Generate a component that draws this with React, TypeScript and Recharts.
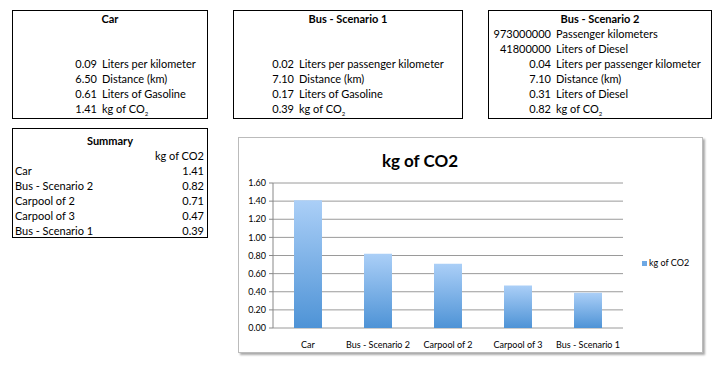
import { Bar, BarChart, CartesianGrid, XAxis, YAxis } from "recharts"

// chart data
const categories = ["Car", "Bus - Scenario 2", "Carpool of 2", "Carpool of 3", "Bus - Scenario 1"]
const co2Values = [1.41, 0.82, 0.71, 0.47, 0.39]
const yTicks = [0, 0.2, 0.4, 0.6, 0.8, 1.0, 1.2, 1.4, 1.6]
const edgeTicks = [0, 1, 2, 3, 4, 5]
const seriesName = "kg of CO2"

// worksheet tables
const carNumbers = ["", "", "0.09", "6.50", "0.61", "1.41"]
const carLabels = ["", "", "Liters per kilometer", "Distance (km)", "Liters of Gasoline", "kg of CO2"]

const bus1Numbers = ["", "", "0.02", "7.10", "0.17", "0.39"]
const bus1Labels = ["", "", "Liters per passenger kilometer", "Distance (km)", "Liters of Gasoline", "kg of CO2"]

const bus2Numbers = ["973000000", "41800000", "0.04", "7.10", "0.31", "0.82"]
const bus2Labels = [
  "Passenger kilometers",
  "Liters of Diesel",
  "Liters per passenger kilometer",
  "Distance (km)",
  "Liters of Diesel",
  "kg of CO2",
]

const summaryHeader = "kg of CO2"
const summaryValues = ["1.41", "0.82", "0.71", "0.47", "0.39"]

const data = categories.map((name, i) => ({ name, co2: co2Values[i] }))

const font = "Lato, 'Open Sans', sans-serif"

function withSub(text: string) {
  if (!text.endsWith("CO2")) return text
  return (
    <>
      {text.slice(0, -1)}
      <sub style={{ fontSize: 6, lineHeight: 0 }}>2</sub>
    </>
  )
}

function InfoBox(props: {
  left: number
  width: number
  title: string
  numbers: string[]
  labels: string[]
  numWidth: number
}) {
  const { left, width, title, numbers, labels, numWidth } = props
  return (
    <div
      style={{
        position: "absolute",
        left,
        top: 10,
        width,
        height: 109,
        border: "1px solid #000",
        boxSizing: "border-box",
        fontSize: 11,
        lineHeight: "15px",
      }}
    >
      <div style={{ textAlign: "center", fontWeight: 700 }}>{title}</div>
      {numbers.map((n, i) => (
        <div key={i} style={{ display: "flex", height: 15 }}>
          <div style={{ width: numWidth, textAlign: "right", flexShrink: 0 }}>{n}</div>
          <div style={{ paddingLeft: 5, whiteSpace: "nowrap" }}>{withSub(labels[i])}</div>
        </div>
      ))}
    </div>
  )
}

export default function App() {
  return (
    <div
      style={{
        position: "absolute",
        left: 0,
        top: 0,
        width: 727,
        height: 376,
        background: "#fff",
        fontFamily: font,
        color: "#000",
      }}
    >
      <InfoBox left={12} width={196} title="Car" numbers={carNumbers} labels={carLabels} numWidth={84} />
      <InfoBox left={233} width={230} title="Bus - Scenario 1" numbers={bus1Numbers} labels={bus1Labels} numWidth={60} />
      <InfoBox left={488} width={224} title="Bus - Scenario 2" numbers={bus2Numbers} labels={bus2Labels} numWidth={62} />

      <div
        style={{
          position: "absolute",
          left: 12,
          top: 128,
          width: 196,
          height: 110,
          border: "1px solid #000",
          boxSizing: "border-box",
          fontSize: 11,
          lineHeight: "15px",
          paddingTop: 4,
        }}
      >
        <div style={{ textAlign: "center", fontWeight: 700 }}>Summary</div>
        <div style={{ textAlign: "right", paddingRight: 3 }}>{summaryHeader}</div>
        {categories.map((c, i) => (
          <div key={c} style={{ display: "flex", justifyContent: "space-between", padding: "0 3px 0 2px" }}>
            <span>{c}</span>
            <span>{summaryValues[i]}</span>
          </div>
        ))}
      </div>

      <div
        style={{
          position: "absolute",
          left: 238,
          top: 137,
          width: 465,
          height: 216,
          border: "1px solid #bbb",
          boxSizing: "border-box",
          boxShadow: "2px 2px 2px #aaa",
        }}
      />
      <div
        style={{
          position: "absolute",
          left: 340,
          top: 150,
          width: 160,
          textAlign: "center",
          fontSize: 17,
          fontWeight: 700,
        }}
      >
        kg of CO2
      </div>
      <div
        style={{
          position: "absolute",
          left: 642,
          top: 257,
          display: "flex",
          alignItems: "center",
          fontSize: 9,
          lineHeight: "12px",
        }}
      >
        <span style={{ width: 5, height: 5, background: "#6ea8e4", marginRight: 2 }} />
        {seriesName}
      </div>
      <div style={{ position: "absolute", left: 238, top: 137 }}>
        <BarChart
          width={465}
          height={216}
          data={data}
          margin={{ top: 46, right: 80, left: 0, bottom: 5 }}
          barCategoryGap="30%"
        >
          <defs>
            <linearGradient id="barGrad" x1="0" y1="0" x2="0" y2="1">
              <stop offset="0%" stopColor="#abcff7" />
              <stop offset="100%" stopColor="#4e93d6" />
            </linearGradient>
          </defs>
          <CartesianGrid vertical={false} stroke="#9a9a9a" />
          <XAxis
            xAxisId="edges"
            type="number"
            domain={[0, 5]}
            ticks={edgeTicks}
            height={0}
            tickSize={4}
            tickLine={{ stroke: "#888" }}
            axisLine={{ stroke: "#888" }}
            tickFormatter={() => ""}
          />
          <XAxis
            dataKey="name"
            height={20}
            axisLine={false}
            tickLine={false}
            interval={0}
            tickMargin={8}
            tick={{ fontSize: 9, fill: "#000", fontFamily: font }}
          />
          <YAxis
            width={35}
            domain={[0, 1.6]}
            ticks={yTicks}
            interval={0}
            tickFormatter={(v: number) => v.toFixed(2)}
            tickSize={4}
            tickMargin={3}
            tickLine={{ stroke: "#888" }}
            axisLine={{ stroke: "#888" }}
            tick={{ fontSize: 9, fill: "#000", fontFamily: font }}
          />
          <Bar dataKey="co2" name={seriesName} fill="url(#barGrad)" isAnimationActive={false} />
        </BarChart>
      </div>
    </div>
  )
}
